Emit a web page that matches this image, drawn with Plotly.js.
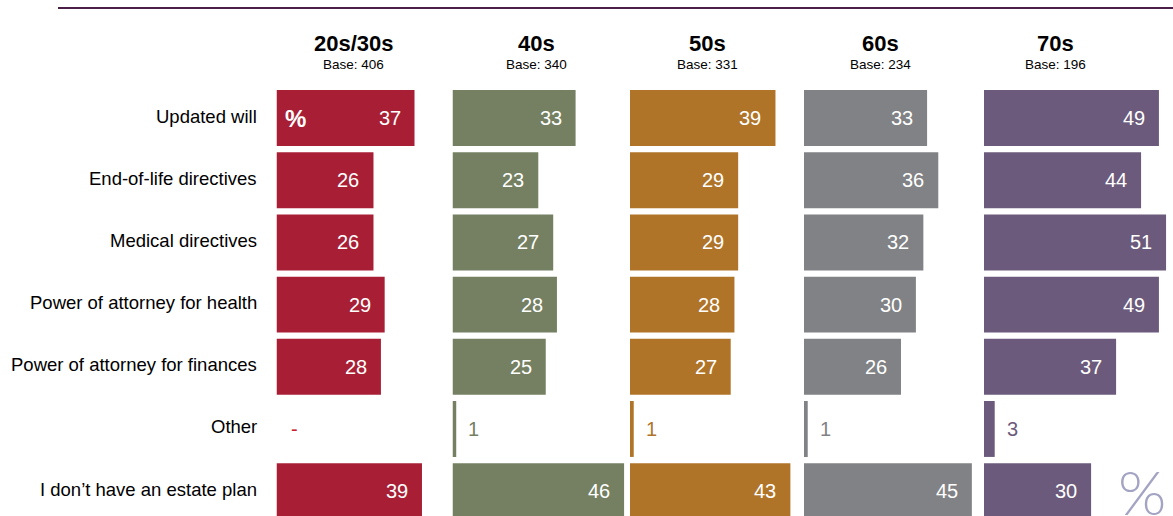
<!DOCTYPE html>
<html>
<head>
<meta charset="utf-8">
<script src="https://cdn.plot.ly/plotly-3.0.1.min.js"></script>
<style>html,body{margin:0;padding:0;background:#fff;}#chart{width:1173px;height:516px;}</style>
</head>
<body>
<div id="chart"></div>
<script>
// ---- data ----
const categories = ['Updated will','End-of-life directives','Medical directives','Power of attorney for health','Power of attorney for finances','Other','I don\u2019t have an estate plan'];
const groups = ['20s/30s','40s','50s','60s','70s'];
const bases = [406, 340, 331, 234, 196];
const v2030 = [37, 26, 26, 29, 28, null, 39];
const v40 = [33, 23, 27, 28, 25, 1, 46];
const v50 = [39, 29, 29, 28, 27, 1, 43];
const v60 = [33, 36, 32, 30, 26, 1, 45];
const v70 = [49, 44, 51, 49, 37, 3, 30];
const seriesValues = [v2030, v40, v50, v60, v70];
const colors = ['#A81F35', '#758062', '#B07429', '#818285', '#6B5A7B'];

// ---- layout helpers ----
const W = 1173;
const FONT = 'Arial, "Liberation Sans", sans-serif';
const panelStart = [276.5, 452.5, 630, 804, 984];   // px
const panelRange = [46.5, 46.5, 46.5, 46.5, 52.5];
const pxPerUnit = [3.73, 3.73, 3.73, 3.73, 3.57];
const headerCenter = [354, 536, 708, 880, 1055];   // px

const traces = [];
const annotations = [];
const layout = {
  width: 1173, height: 516,
  margin: {l: 0, r: 0, t: 87, b: 0, pad: 0},
  paper_bgcolor: '#fff', plot_bgcolor: 'rgba(0,0,0,0)',
  showlegend: false,
  bargap: 0.1,
  font: {family: FONT},
  yaxis: {
    type: 'category', categoryorder: 'array', categoryarray: categories,
    range: [6.4, -0.5], autorange: false, visible: false, fixedrange: true,
    domain: [0, 1], anchor: 'x'
  },
  shapes: [{
    type: 'line', xref: 'paper', yref: 'paper',
    x0: 58 / W, x1: 1, y0: (516 - 8) / 429, y1: (516 - 8) / 429,
    line: {color: '#4A1F47', width: 2}
  }],
  annotations: annotations
};

groups.forEach((g, i) => {
  const ax = i === 0 ? 'x' : 'x' + (i + 1);
  const axKey = i === 0 ? 'xaxis' : 'xaxis' + (i + 1);
  const x0 = panelStart[i] / W;
  const x1 = (panelStart[i] + panelRange[i] * pxPerUnit[i]) / W;
  layout[axKey] = {
    domain: [x0, x1], range: [0, panelRange[i]], autorange: false,
    visible: false, fixedrange: true, anchor: 'y'
  };
  const vals = seriesValues[i];
  traces.push({
    type: 'bar', orientation: 'h',
    x: vals.map(v => v === null ? 0 : v), y: categories,
    xaxis: ax, yaxis: 'y',
    marker: {color: colors[i], line: {width: 0}},
    hoverinfo: 'skip'
  });
  // value labels
  vals.forEach((v, k) => {
    if (v === null) {
      annotations.push({
        xref: ax, yref: 'y', x: 0, y: categories[k], xanchor: 'left', xshift: 12,
        text: '-', showarrow: false, font: {family: FONT, size: 20, color: '#C8202E'}
      });
    } else if (v < 5) {
      annotations.push({
        xref: ax, yref: 'y', x: v, y: categories[k], xanchor: 'left', xshift: 10,
        text: String(v), showarrow: false, font: {family: FONT, size: 20, color: colors[i]}
      });
    } else {
      annotations.push({
        xref: ax, yref: 'y', x: v, y: categories[k], xanchor: 'right', xshift: -12,
        text: String(v), showarrow: false, font: {family: FONT, size: 20, color: '#ffffff'}
      });
    }
  });
  // headers
  annotations.push({
    xref: 'paper', yref: 'paper', x: headerCenter[i] / W, y: (516 - 44) / 429,
    xanchor: 'center', yanchor: 'middle', text: '<b>' + g + '</b>', showarrow: false,
    font: {family: FONT, size: 22, color: '#000'}
  });
  annotations.push({
    xref: 'paper', yref: 'paper', x: headerCenter[i] / W, y: (516 - 65) / 429,
    xanchor: 'center', yanchor: 'middle', text: 'Base: ' + bases[i], showarrow: false,
    font: {family: FONT, size: 13.5, color: '#000'}
  });
});

// row labels
categories.forEach(c => {
  annotations.push({
    xref: 'x domain', yref: 'y', x: 0, y: c, xanchor: 'right', xshift: -18, yshift: 2,
    text: c, showarrow: false, font: {family: FONT, size: 18.5, color: '#000'}
  });
});

// % marker on first bar
annotations.push({
  xref: 'x domain', yref: 'y', x: 0, y: categories[0], xanchor: 'left', xshift: 6,
  text: '<b>%</b>', showarrow: false, font: {family: FONT, size: 24, color: '#ffffff'}
});

// big % at bottom right
annotations.push({
  xref: 'paper', yref: 'paper', x: 1116 / W, y: (516 - 452) / 429,
  xanchor: 'left', yanchor: 'top', text: '%', showarrow: false,
  font: {family: 'Lato, "Open Sans", sans-serif', size: 62, color: '#A3A3C4', weight: 300}
});

Plotly.newPlot('chart', traces, layout, {staticPlot: true, displayModeBar: false});
</script>
</body>
</html>
